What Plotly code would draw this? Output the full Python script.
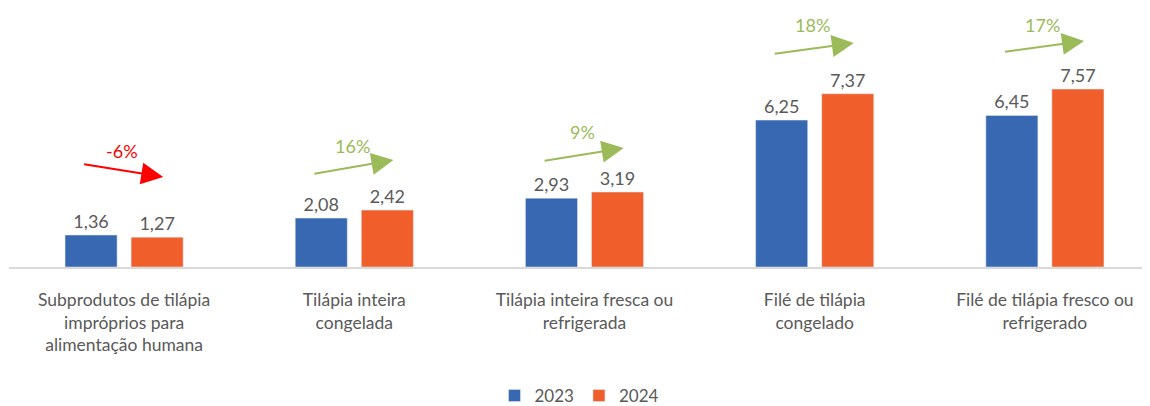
import plotly.graph_objects as go

categories = [
    "Subprodutos de tilápia<br>impróprios para<br>alimentação humana",
    "Tilápia inteira<br>congelada",
    "Tilápia inteira fresca ou<br>refrigerada",
    "Filé de tilápia<br>congelado",
    "Filé de tilápia fresco ou<br>refrigerado",
]
values_2023 = [1.36, 2.08, 2.93, 6.25, 6.45]
values_2024 = [1.27, 2.42, 3.19, 7.37, 7.57]
change_labels = ["-6%", "16%", "9%", "18%", "17%"]

# annotation layout (arrow placement in axis units)
arrow_tail_y = [4.38, 3.96, 4.51, 9.06, 9.15]
arrow_head_y = [3.83, 4.55, 5.06, 9.53, 9.62]
label_y = [4.94, 5.15, 5.74, 10.30, 10.30]

BLUE = "#3868B1"
ORANGE = "#F05F2B"
RED = "#FF0000"
GREEN = "#9BBB59"
GRAY = "#595959"
FONT = "Lato"

xs = list(range(len(categories)))

fig = go.Figure()
fig.add_trace(go.Bar(
    x=xs, y=values_2023, name="2023", marker_color=BLUE,
    text=[f"{v:.2f}".replace(".", ",") for v in values_2023],
    textposition="outside", textfont=dict(size=18, color=GRAY, family=FONT),
    cliponaxis=False,
))
fig.add_trace(go.Bar(
    x=xs, y=values_2024, name="2024", marker_color=ORANGE,
    text=[f"{v:.2f}".replace(".", ",") for v in values_2024],
    textposition="outside", textfont=dict(size=18, color=GRAY, family=FONT),
    cliponaxis=False,
))

for i, lab in enumerate(change_labels):
    col = RED if lab.startswith("-") else GREEN
    fig.add_annotation(
        x=i + 0.17, y=arrow_head_y[i], ax=i - 0.18, ay=arrow_tail_y[i],
        xref="x", yref="y", axref="x", ayref="y",
        showarrow=True, arrowhead=2, arrowsize=2.2, arrowwidth=2,
        arrowcolor=col, standoff=0, text="",
    )
    fig.add_annotation(
        x=i - 0.01, y=label_y[i], xref="x", yref="y", text=lab,
        showarrow=False, font=dict(size=18, color=col, family=FONT),
    )

fig.update_layout(
    width=1142, height=398,
    margin=dict(l=1, r=0, t=0, b=139, autoexpand=False),
    plot_bgcolor="white", paper_bgcolor="white",
    barmode="group", bargap=0.426, bargroupgap=0.212,
    font=dict(family=FONT, size=17, color=GRAY),
    showlegend=True,
    legend=dict(orientation="h", x=0.5, xanchor="center", y=-0.498,
                yanchor="middle", font=dict(size=17, color=GRAY, family=FONT),
                itemwidth=30, traceorder="normal"),
    xaxis=dict(
        tickvals=xs, ticktext=categories, range=[-0.5, 4.4566],
        showline=True, linecolor="#D9D9D9", linewidth=1.5,
        showgrid=False, zeroline=False, ticks="", ticklabelstandoff=16,
        tickfont=dict(size=17.5, color=GRAY, family=FONT), automargin=False,
    ),
    yaxis=dict(range=[0, 11.02], visible=False, showgrid=False, zeroline=False,
               automargin=False),
)

fig.write_html("out.html")
